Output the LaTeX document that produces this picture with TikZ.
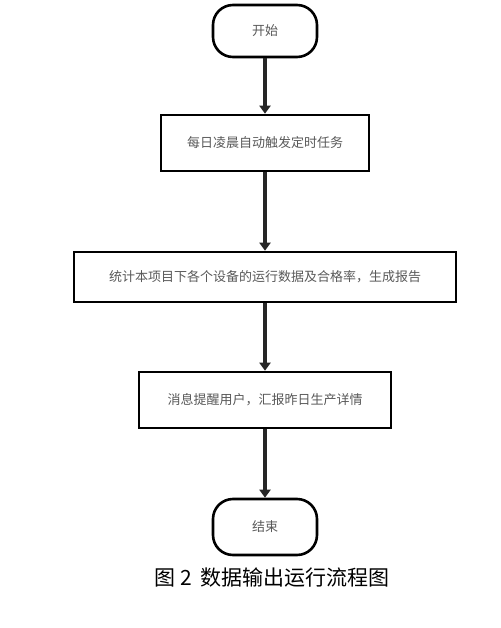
\documentclass[tikz,border=0pt]{standalone}
\usepackage{fontspec}
\newfontfamily\cjk{Noto Sans CJK SC}
\usetikzlibrary{arrows.meta}
\tikzset{
  term/.style = {
    draw=black, line width=2.6pt, fill=white,
    rounded corners=20pt,
    minimum width=104pt, minimum height=52pt,
    text=black!65, font=\cjk\fontsize{13}{15}\selectfont,
    inner sep=0pt
  },
  proc/.style = {
    draw=black, line width=2.6pt, fill=white,
    minimum height=56pt,
    text=black!65, font=\cjk\fontsize{13}{15}\selectfont,
    inner sep=0pt
  },
  flw/.style = {-{Triangle[length=8pt,width=11pt]},
                 black!85, line width=4.5pt}
}

\begin{document}
\begin{tikzpicture}[x=1pt, y=1pt]
  \useasboundingbox (0, 0) rectangle (500, -628);

  %% Node positions
  \coordinate (Pst) at (265,  -31);
  \coordinate (Pa)  at (265, -143);
  \coordinate (Pb)  at (265, -277);
  \coordinate (Pc)  at (265, -400);
  \coordinate (Pen) at (265, -527);

  %% Nodes
  \node[term] (start) at (Pst) {开始};
  \node[proc, minimum width=208pt] (task) at (Pa) {每日凌晨自动触发定时任务};
  \node[proc, minimum width=382pt, minimum height=50pt] (stat) at (Pb)
    {统计本项目下各个设备的运行数据及合格率，生成报告};
  \node[proc, minimum width=252pt] (msg) at (Pc) {消息提醒用户，汇报昨日生产详情};
  \node[term, minimum height=56pt] (end) at (Pen) {结束};

  %% Flow arrows
  \draw[flw] (start) -- (task);
  \draw[flw] (task) -- (stat);
  \draw[flw] (stat) -- (msg);
  \draw[flw] (msg) -- (end);

  %% Caption
  \node[font=\cjk\fontsize{21}{24}\selectfont] (cap) at (272, -578)
    {图 2\, 数据输出运行流程图};

\end{tikzpicture}
\end{document}
